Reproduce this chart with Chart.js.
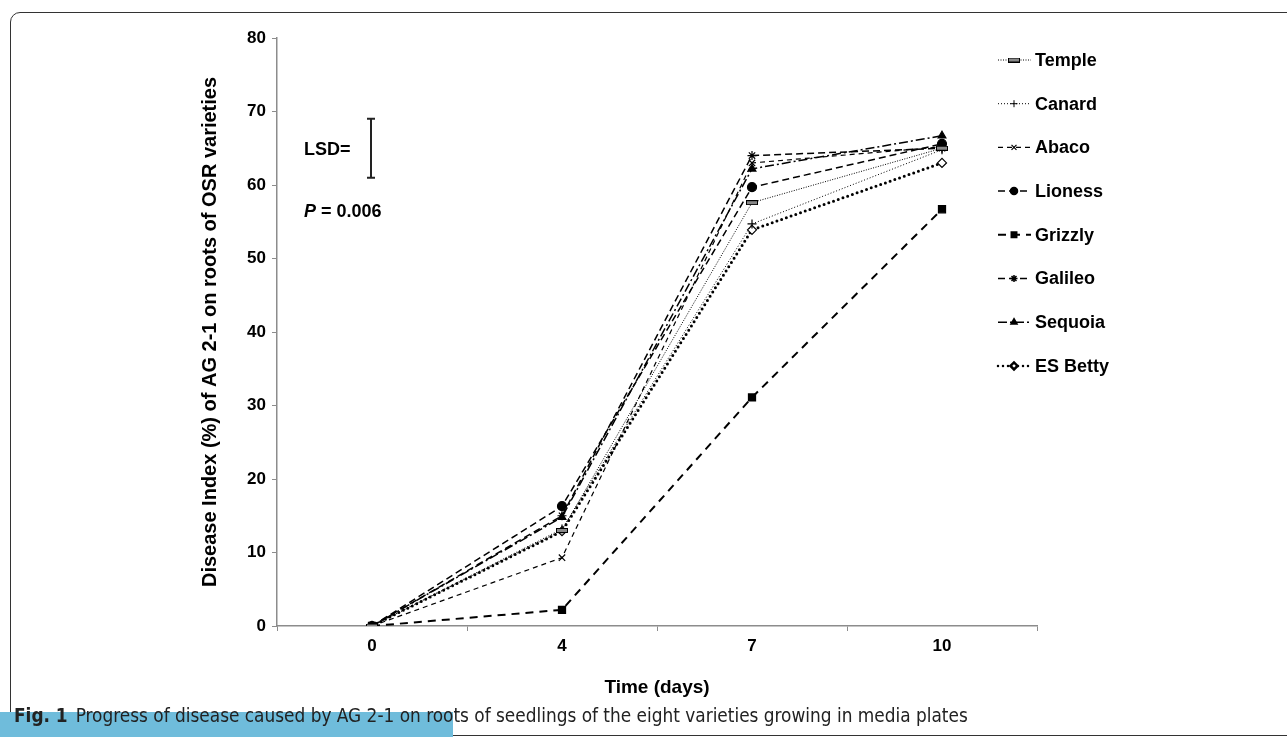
<!DOCTYPE html>
<html>
<head>
<meta charset="utf-8">
<script src="https://cdn.jsdelivr.net/npm/chart.js@4.4.1/dist/chart.umd.min.js"></script>
<style>
  body { margin:0; width:1287px; height:737px; overflow:hidden; background:#fff; position:relative; }
  #frame { position:absolute; left:10px; top:12px; width:1300px; height:722px; border:1px solid #333; border-radius:10px; }
  #wrap { position:absolute; left:0; top:0; width:1287px; height:737px; }
  #band { position:absolute; left:0; top:712px; width:453px; height:25px; background:#6fbcdb; }
  #caption { position:absolute; left:14px; top:705px; font-family:"Liberation Sans Narrow","DejaVu Sans Condensed",sans-serif; font-size:18.85px; color:#222; white-space:nowrap; }
  #caption b { font-weight:bold; margin-right:8px; }
</style>
</head>
<body>
<div id="frame"></div>
<div id="band"></div>
<div id="wrap"><canvas id="myChart"></canvas></div>
<div id="caption"><b>Fig. 1</b>Progress of disease caused by AG 2-1 on roots of seedlings of the eight varieties growing in media plates</div>
<script>
// data
var days = ['0', '4', '7', '10']
var names = ['Temple', 'Canard', 'Abaco', 'Lioness', 'Grizzly', 'Galileo', 'Sequoia', 'ES Betty']
var temple  = [0, 13.0, 57.6, 65.0]
var canard  = [0, 13.2, 54.7, 64.8]
var abaco   = [0, 9.3, 63.0, 65.2]
var lioness = [0, 16.3, 59.7, 65.6]
var grizzly = [0, 2.2, 31.1, 56.7]
var galileo = [0, 15.0, 64.0, 65.0]
var sequoia = [0, 14.8, 62.2, 66.7]
var betty   = [0, 12.9, 53.9, 63.0]
var yTicks = [0, 10, 20, 30, 40, 50, 60, 70, 80]
var lsdLow = 61
var lsdHigh = 69

var FONT = "'Liberation Sans', Arial, sans-serif"

// flat bar marker for Temple
var bar = document.createElement('canvas')
bar.width = 12; bar.height = 5
var bctx = bar.getContext('2d')
bctx.fillStyle = '#888'; bctx.fillRect(0.5, 0.5, 11, 4)
bctx.strokeStyle = '#000'; bctx.lineWidth = 1; bctx.strokeRect(0.5, 0.5, 11, 4)

function ds(label, data, dash, width, style, fill, cap, radius){
    return {
        label: label,
        data: data,
        borderColor: '#000',
        borderWidth: width,
        borderDash: dash,
        borderCapStyle: cap || 'butt',
        pointStyle: style,
        pointRadius: radius || 4.5,
        pointBorderWidth: 1.2,
        pointBorderColor: '#000',
        pointBackgroundColor: fill,
        tension: 0,
        fill: false
    }
}

var datasets = [
    ds(names[0], temple, [1, 1.5], 1, bar, '#888'),
    ds(names[1], canard, [1, 2], 1, 'cross', '#000'),
    ds(names[2], abaco, [5, 4], 1.2, 'crossRot', '#000'),
    ds(names[3], lioness, [7, 4], 1.5, 'circle', '#000'),
    ds(names[4], grizzly, [8, 6], 2, 'rect', '#000', 'butt', 5),
    ds(names[5], galileo, [7, 4], 1.5, 'star', '#000'),
    ds(names[6], sequoia, [9, 3, 2, 3], 1.5, 'triangle', '#000'),
    ds(names[7], betty, [0, 5], 3, 'rectRot', '#fff', 'round')
]

// legend drawn on the right + LSD bar
var extras = {
    id: 'extras',
    afterDraw: function(chart){
        var c = chart.ctx
        var xs = chart.scales.x, ys = chart.scales.y
        c.save()
        // LSD error bar at day 0
        var lx = xs.getPixelForValue(0) - 1
        var top = ys.getPixelForValue(lsdHigh), bot = ys.getPixelForValue(lsdLow)
        c.strokeStyle = '#222'; c.lineWidth = 2; c.setLineDash([])
        c.beginPath()
        c.moveTo(lx, top); c.lineTo(lx, bot)
        c.moveTo(lx - 4, top); c.lineTo(lx + 4, top)
        c.moveTo(lx - 4, bot); c.lineTo(lx + 4, bot)
        c.stroke()
        c.fillStyle = '#000'
        c.textBaseline = 'middle'; c.textAlign = 'left'
        c.font = 'bold 18px ' + FONT
        c.fillText('LSD=', 304, 150)
        c.font = 'italic bold 18px ' + FONT
        c.fillText('P', 304, 212)
        var pw = c.measureText('P').width
        c.font = 'bold 18px ' + FONT
        c.fillText(' = 0.006', 304 + pw, 212)
        // legend
        chart.data.datasets.forEach(function(d, i){
            var y = 60 + i * 43.7
            c.strokeStyle = '#000'
            c.lineWidth = Math.min(d.borderWidth, 2.5)
            c.lineCap = d.borderCapStyle
            c.setLineDash(d.borderDash)
            c.beginPath(); c.moveTo(998, y); c.lineTo(1031, y); c.stroke()
            c.setLineDash([])
            c.fillStyle = d.pointBackgroundColor
            Chart.helpers.drawPoint(c, {pointStyle: d.pointStyle, radius: 3.5, borderWidth: 1.2, rotation: 0}, 1014, y)
            c.fillStyle = '#000'
            c.font = 'bold 18px ' + FONT
            c.fillText(d.label, 1035, y + 1)
        })
        c.restore()
    }
}

var ctx = document.getElementById('myChart').getContext('2d')
var chart1 = new Chart(ctx, {
    type: 'line',
    plugins: [extras],
    data: { labels: days, datasets: datasets },
    options: {
        responsive: true,
        maintainAspectRatio: false,
        animation: false,
        layout: { padding: { left: 196, right: 250, top: 38, bottom: 36 } },
        plugins: { legend: { display: false }, tooltip: { enabled: false } },
        scales: {
            x: {
                offset: true,
                grid: { display: true, drawOnChartArea: false, offset: true, tickLength: 5, color: '#8c8c8c' },
                border: { color: '#8c8c8c', width: 1.5 },
                ticks: { color: '#000', font: { family: FONT, size: 17, weight: 'bold' }, padding: 5 },
                title: { display: true, text: 'Time (days)', color: '#000', font: { family: FONT, size: 19, weight: 'bold' }, padding: { top: 4, bottom: 2 } },
                afterFit: function(s){ s.height = 75 }
            },
            y: {
                min: 0, max: 80,
                afterBuildTicks: function(s){ s.ticks = yTicks.map(function(v){ return { value: v } }) },
                grid: { display: true, drawOnChartArea: false, tickLength: 5, color: '#8c8c8c' },
                border: { color: '#8c8c8c', width: 1.5 },
                ticks: { color: '#000', font: { family: FONT, size: 17, weight: 'bold' }, padding: 6 },
                title: { display: true, text: 'Disease Index (%) of AG 2-1 on roots of OSR varieties', color: '#000', font: { family: FONT, size: 20, weight: 'bold' }, padding: 2 },
                afterFit: function(s){ s.width = 81 }
            }
        }
    }
})
</script>
</body>
</html>
